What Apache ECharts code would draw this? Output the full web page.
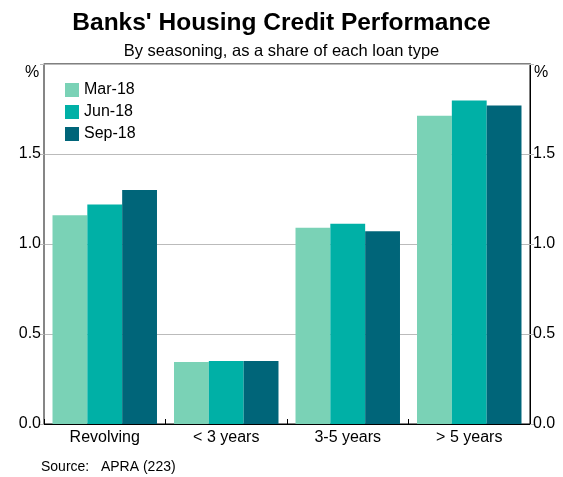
<!DOCTYPE html>
<html>
<head>
<meta charset="utf-8">
<script src="https://cdn.jsdelivr.net/npm/echarts@6/dist/echarts.min.js"></script>
<style>html,body{margin:0;padding:0;background:#fff}#c{width:563px;height:477px}</style>
</head>
<body>
<div id="c"></div>
<script>
const categories = ['Revolving', '< 3 years', '3-5 years', '> 5 years'];
const seriesNames = ['Mar-18', 'Jun-18', 'Sep-18'];
const mar18 = [1.16, 0.345, 1.09, 1.713];
const jun18 = [1.22, 0.35, 1.112, 1.797];
const sep18 = [1.30, 0.35, 1.071, 1.769];
const yTicks = [0, 0.5, 1.0, 1.5, 2.0];
const colors = ['#7ad2b6', '#00b0a6', '#006579'];

const font = 'Arial, "Liberation Sans", sans-serif';
const chart = echarts.init(document.getElementById('c'), null, {renderer: 'canvas'});
const yAxisCommon = {
  type: 'value', min: yTicks[0], max: yTicks[yTicks.length - 1], interval: 0.5,
  axisLabel: {
    fontFamily: font, fontSize: 16, color: '#000', margin: 3,
    formatter: v => (v >= 2 ? '' : v.toFixed(1))
  },
  axisTick: {show: true, length: 4, lineStyle: {color: '#bbb'}},
  splitLine: {show: true, lineStyle: {color: '#bbb', width: 1}}
};
chart.setOption({
  animation: false,
  textStyle: {fontFamily: font},
  title: [
    {text: "Banks' Housing Credit Performance", left: 'center', top: 6,
     textStyle: {fontFamily: font, fontSize: 24.5, fontWeight: 'bold', color: '#000'}},
    {text: 'By seasoning, as a share of each loan type', left: 'center', top: 38,
     textStyle: {fontFamily: font, fontSize: 16.5, fontWeight: 'normal', color: '#000'}}
  ],
  legend: {
    orient: 'vertical', left: 60, top: 77, itemWidth: 14, itemHeight: 14, itemGap: 6,
    textStyle: {fontFamily: font, fontSize: 16, color: '#000'},
    icon: 'rect', data: seriesNames
  },
  grid: {left: 44, right: 33, top: 64, bottom: 53, show: true, borderColor: '#000', borderWidth: 1},
  xAxis: {
    type: 'category', data: categories,
    axisLine: {lineStyle: {color: '#000', width: 1}},
    axisTick: {show: true, inside: true, length: 5, lineStyle: {color: '#000'}},
    axisLabel: {fontFamily: font, fontSize: 16, color: '#000', margin: 6}
  },
  yAxis: [
    Object.assign({}, yAxisCommon, {position: 'left', axisLine: {show: true, lineStyle: {color: '#888', width: 1.5}}}),
    Object.assign({}, yAxisCommon, {position: 'right', axisLine: {show: true, lineStyle: {color: '#000', width: 1}}})
  ],
  graphic: [
    {type: 'text', left: 25, top: 65, style: {text: '%', font: '16px ' + font, fill: '#000'}},
    {type: 'text', left: 534, top: 65, style: {text: '%', font: '16px ' + font, fill: '#000'}},
    {type: 'text', left: 41, top: 460, style: {text: 'Source:   APRA (223)', font: '14px ' + font, fill: '#000'}}
  ],
  series: [
    {name: seriesNames[0], type: 'bar', data: mar18, itemStyle: {color: colors[0]}, barGap: '0%', barCategoryGap: '14%'},
    {name: seriesNames[1], type: 'bar', data: jun18, itemStyle: {color: colors[1]}, barGap: '0%', barCategoryGap: '14%'},
    {name: seriesNames[2], type: 'bar', data: sep18, itemStyle: {color: colors[2]}, barGap: '0%', barCategoryGap: '14%'}
  ]
});
</script>
</body>
</html>
